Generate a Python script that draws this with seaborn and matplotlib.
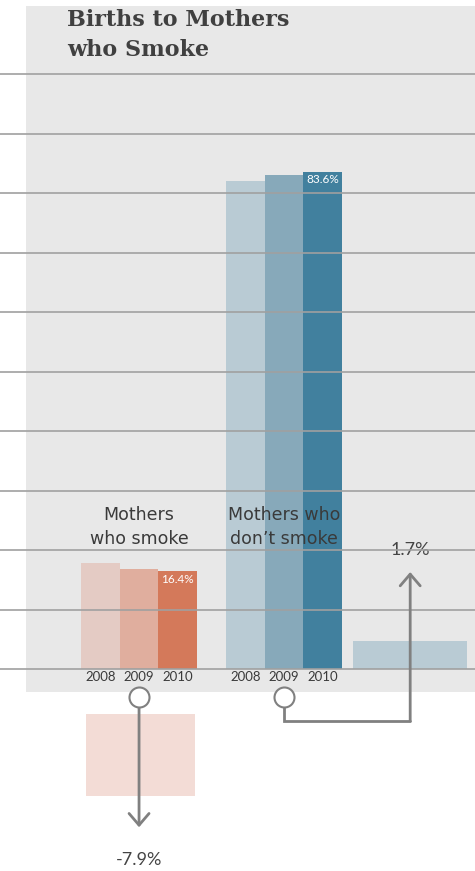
import matplotlib
matplotlib.use("Agg")
import matplotlib.pyplot as plt
import matplotlib.patches as mpatches
import seaborn as sns
import pandas as pd
import numpy as np

# data
groups = ["Mothers\nwho smoke", "Mothers who\ndon\u2019t smoke"]
years = ["2008", "2009", "2010"]
smoke_pct = [17.8, 16.8, 16.4]
nonsmoke_pct = [82.1, 83.1, 83.6]
change_pct = [-7.9, 1.7]
# decorative change bars (height in chart units)
change_bar_height = [13.8, 4.7]

smoke_colors = ["#e4cbc4", "#e0ae9e", "#d4795a"]
nonsmoke_colors = ["#b9cbd4", "#87a9ba", "#41809e"]
panel_color = "#e8e8e8"
grid_color = "#a0a0a0"
arrow_color = "#808080"
text_color = "#3a3a3a"
sans = ["Lato", "DejaVu Sans"]

sns.set_theme(style="white")
plt.rcParams["font.family"] = sans

df = pd.DataFrame({
    "group": [groups[0]] * 3 + [groups[1]] * 3,
    "year": years * 2,
    "pct": smoke_pct + nonsmoke_pct,
})

fig = plt.figure(figsize=(4.75, 8.71), dpi=100)
fig.patch.set_facecolor("white")
ax = fig.add_axes([0, 0, 1, 1])
ax.set_facecolor("none")

# grey panel behind the chart
panel = mpatches.Rectangle((26 / 475, 1 - 692 / 871), 1 - 26 / 475, (692 - 6) / 871,
                           transform=ax.transAxes, facecolor=panel_color,
                           edgecolor="none", zorder=0)
ax.add_patch(panel)

sns.barplot(data=df, x="group", y="pct", hue="year", errorbar=None,
            legend=False, width=0.8, ax=ax, zorder=1)

# recolour bars per group / year
bars = [p for p in ax.patches if isinstance(p, mpatches.Rectangle) and p is not panel]
bar_w = 0.8 / 3
for p in bars:
    cx = p.get_x() + p.get_width() / 2
    g = int(round(cx))
    yi = int(round((cx - g) / bar_w)) + 1
    p.set_facecolor((smoke_colors if g == 0 else nonsmoke_colors)[yi])
    p.set_edgecolor("none")
    p.set_linewidth(0)
    ax.text(cx, -1.4, years[yi], ha="center", va="center", fontsize=9.5,
            color=text_color, zorder=5)
    if yi == 2:
        ax.text(cx, p.get_height() - 1.4, f"{p.get_height():.1f}%", ha="center",
                va="center", fontsize=8.5, color="white", zorder=5)

# group labels
for i, g in enumerate(groups):
    ax.text(i, 23.9, g, ha="center", va="center", fontsize=12.5,
            family=["DejaVu Sans"], color=text_color, linespacing=1.4, zorder=5)

# change bars
ax.bar(1.87, change_bar_height[1], width=0.79, bottom=0,
       color=nonsmoke_colors[0], edgecolor="none", linewidth=0, zorder=1)
ax.bar(0.01, change_bar_height[0], width=0.745, bottom=-7.6 - change_bar_height[0],
       color="#f3dcd6", edgecolor="none", linewidth=0, zorder=1)

# connector: smokers, downward arrow
ax.annotate("", xy=(0, -26.6), xytext=(0, -6.0),
            arrowprops=dict(arrowstyle="->,head_length=0.7,head_width=0.6",
                            color=arrow_color, lw=2, shrinkA=0, shrinkB=0),
            zorder=4)
ax.text(0, -32.1, f"{change_pct[0]:.1f}%", ha="center", va="center",
        fontsize=13, color="#444444")

# connector: non-smokers, elbow up to the right
ax.plot([1, 1, 1.87], [-6.0, -8.74, -8.74], color=arrow_color, lw=2,
        solid_joinstyle="miter", zorder=4)
ax.annotate("", xy=(1.87, 16.3), xytext=(1.87, -8.74),
            arrowprops=dict(arrowstyle="->,head_length=0.7,head_width=0.6",
                            color=arrow_color, lw=2, shrinkA=0, shrinkB=0),
            zorder=4)
ax.text(1.87, 20.0, f"{change_pct[1]:.1f}%", ha="center", va="center",
        fontsize=13, color="#444444")

# circles at 2009 positions
ax.plot([0, 1], [-4.7, -4.7], linestyle="none", marker="o", markersize=14.4,
        markerfacecolor="white", markeredgecolor=arrow_color,
        markeredgewidth=1.5, zorder=6)

# gridlines drawn over bars
for v in np.arange(0, 101, 10):
    ax.axhline(v, color=grid_color, lw=1.2, zorder=3)

ax.set_xlim(-0.959, 2.317)
ax.set_ylim(-33.95, 112.44)
ax.set_xlabel("")
ax.set_ylabel("")
ax.set_xticks([])
ax.set_yticks([])
for s in ax.spines.values():
    s.set_visible(False)

fig.text(67 / 475, 1 - 9 / 871, "Births to Mothers\nwho Smoke", ha="left", va="top",
         fontsize=16, fontweight="bold", family="DejaVu Serif",
         color="#404040", linespacing=1.5)

fig.savefig("out.png", dpi=100, facecolor="white")
